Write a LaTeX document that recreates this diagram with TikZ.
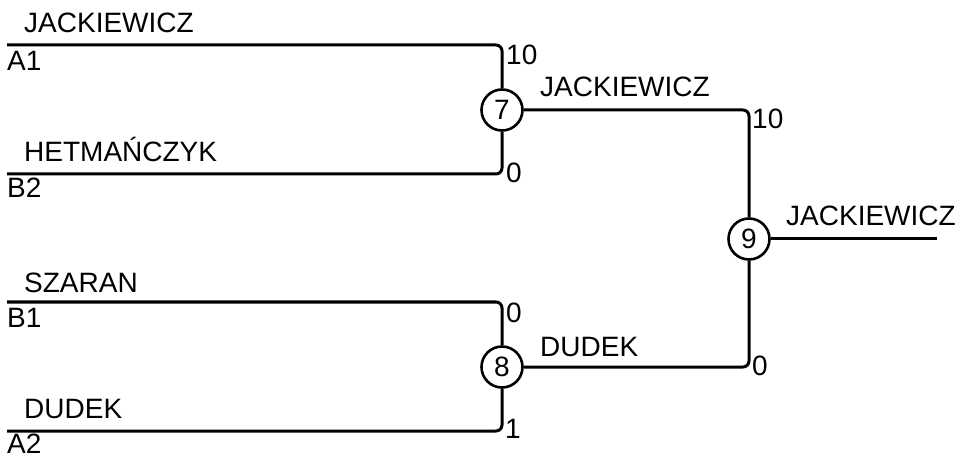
\documentclass[tikz,border=0pt]{standalone}
\usepackage{fontspec}
\setmainfont{Liberation Sans}
\begin{document}
\begin{tikzpicture}[x=1pt,y=-1pt,
  every node/.style={font=\fontsize{28}{32}\selectfont},
  wire/.style={line width=3pt,rounded corners=6pt},
  game/.style={circle,draw,line width=2.6pt,minimum size=41pt,inner sep=0pt},
  lbl/.style={anchor=base west,inner sep=0pt}]
\useasboundingbox (0,0) rectangle (959,457);
% game nodes
\node[game] (n7) at (502,110) {7};
\node[game] (n8) at (502,367) {8};
\node[game] (n9) at (749,239) {9};
% line starts
\coordinate (a1) at (7,45);
\coordinate (b2) at (7,174);
\coordinate (b1) at (7,302);
\coordinate (a2) at (7,431);
\coordinate (win) at (937,239);
% connectors
\draw[wire] (a1) -| (n7);
\draw[wire] (b2) -| (n7);
\draw[wire] (b1) -| (n8);
\draw[wire] (a2) -| (n8);
\draw[wire] (n7) -| (n9);
\draw[wire] (n8) -| (n9);
\draw[wire] (n9) -- (win);
% labels
\node[lbl] (t1) at (24,33) {JACKIEWICZ};
\node[lbl] (s1) at (7,71) {A1};
\node[lbl] (t2) at (24,162) {HETMAŃCZYK};
\node[lbl] (s2) at (7,198) {B2};
\node[lbl] (t3) at (24,292) {SZARAN};
\node[lbl] (s3) at (7,327) {B1};
\node[lbl] (t4) at (24,418) {DUDEK};
\node[lbl] (s4) at (7,453) {A2};
\node[lbl] (p1) at (506,65) {10};
\node[lbl] (p2) at (506,183) {0};
\node[lbl] (p3) at (506,322) {0};
\node[lbl] (p4) at (505,438) {1};
\node[lbl] (t5) at (540,97) {JACKIEWICZ};
\node[lbl] (t6) at (540,356) {DUDEK};
\node[lbl] (p5) at (752,129) {10};
\node[lbl] (p6) at (752,375) {0};
\node[lbl] (t7) at (786,226) {JACKIEWICZ};
\end{tikzpicture}
\end{document}
